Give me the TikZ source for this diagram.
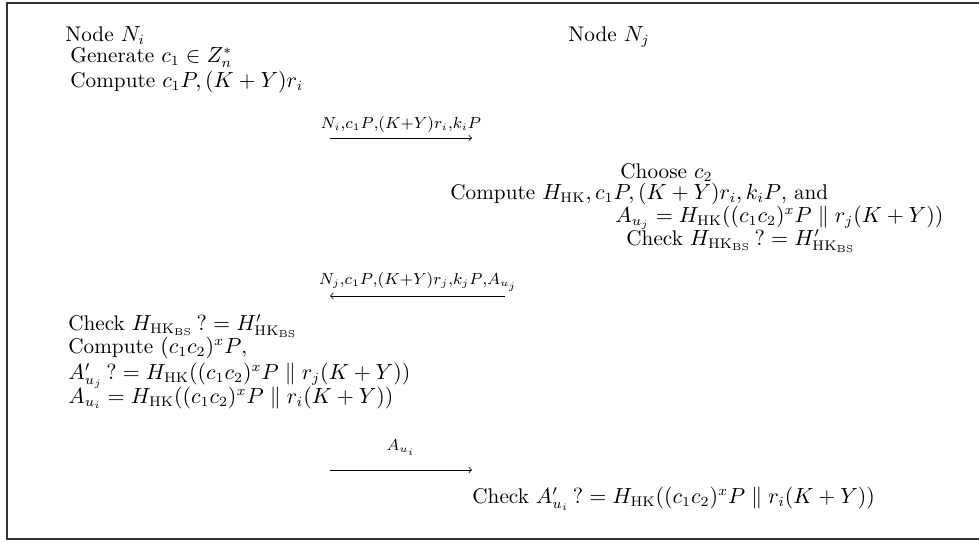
\documentclass[tikz,border=0pt]{standalone}
\usepackage{amsmath}
\begin{document}
\begin{tikzpicture}[x=0.5pt,y=-0.5pt,
  txt/.style={anchor=base west, inner sep=0pt, font=\fontsize{10.6}{12}\selectfont},
  msg/.style={->, >=to, line width=0.35pt},
  lbl/.style={anchor=base, inner sep=0pt, font=\fontsize{7.6}{9}\selectfont}]
\useasboundingbox (0,0) rectangle (979,541);
\draw[line width=0.8pt, black!80] (979,3) -- (7,3) -- (7,539) -- (979,539);
\node[txt] (ni) at (65,41) {Node $N_i$};
\node[txt] (gen) at (70,62) {Generate $c_1 \in Z_n^*$};
\node[txt] (cpi) at (70,87) {Compute $c_1P, (K+Y)r_i$};
\node[txt] (nj) at (568,41) {Node $N_j$};
\coordinate (m1a) at (330,138);
\coordinate (m1b) at (472,138);
\node[lbl] (l1) at (401,128) {$N_i{,}c_1P{,}(K{+}Y)r_i{,}k_iP$};
\draw[msg] (m1a) -- (m1b);
\node[txt] (ch) at (620,178) {Choose $c_2$};
\node[txt] (cph) at (450,199) {Compute $H_{\mathrm{HK}}, c_1P, (K+Y)r_i, k_iP$, and};
\node[txt] (auj) at (615,222) {$A_{u_j} = H_{\mathrm{HK}}((c_1c_2)^xP \parallel r_j(K+Y))$};
\node[txt] (ckj) at (626,245) {Check $H_{\mathrm{HK}_{\mathrm{BS}}}\,? = H'_{\mathrm{HK}_{\mathrm{BS}}}$};
\coordinate (m2a) at (505,296);
\coordinate (m2b) at (330,296);
\node[lbl] (l2) at (418,284) {$N_j{,}c_1P{,}(K{+}Y)r_j{,}k_jP{,}A_{u_j}$};
\draw[msg] (m2a) -- (m2b);
\node[txt] (cki) at (68,330) {Check $H_{\mathrm{HK}_{\mathrm{BS}}}\,? = H'_{\mathrm{HK}_{\mathrm{BS}}}$};
\node[txt] (cpc) at (68,353) {Compute $(c_1c_2)^xP$,};
\node[txt] (apj) at (68,379) {$A'_{u_j}\,? = H_{\mathrm{HK}}((c_1c_2)^xP \parallel r_j(K+Y))$};
\node[txt] (aui) at (68,403) {$A_{u_i} = H_{\mathrm{HK}}((c_1c_2)^xP \parallel r_i(K+Y))$};
\coordinate (m3a) at (330,470);
\coordinate (m3b) at (472,470);
\node[lbl] (l3) at (401,450) {$A_{u_i}$};
\draw[msg] (m3a) -- (m3b);
\node[txt] (cka) at (472,503) {Check $A'_{u_i}\,? = H_{\mathrm{HK}}((c_1c_2)^xP \parallel r_i(K+Y))$};
\end{tikzpicture}
\end{document}
